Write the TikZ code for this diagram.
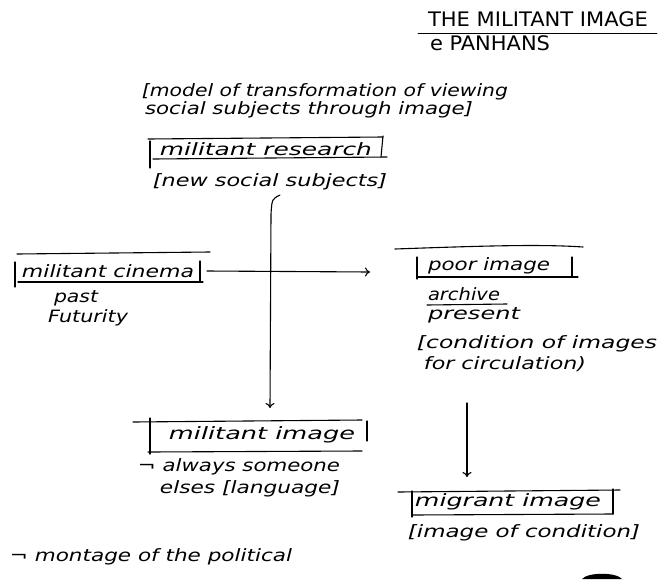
\documentclass[tikz,border=0pt]{standalone}
\usepackage{fontspec}
\usepackage{graphicx}
\newfontfamily\hand{DejaVu Sans}
\usetikzlibrary{arrows.meta}
\newcommand\fw[2]{\resizebox{#1}{\height}{#2}}
\begin{document}
\begin{tikzpicture}[x=1pt,y=-1pt,
  hw/.style={font=\hand\itshape\fontsize{17}{20}\selectfont, inner sep=0pt, anchor=center},
  ttl/.style={font=\hand\fontsize{20}{24}\selectfont, inner sep=0pt, anchor=center},
  ln/.style={line width=1.1pt, line cap=round, line join=round},
  arr/.style={ln, -{To[length=5pt,width=9pt]}}]
\useasboundingbox (0,0) rectangle (659,579);
\fill[white] (0,0) rectangle (659,579);
% title
\node[ttl] (t1) at (538,19) {\fw{220pt}{THE MILITANT IMAGE}};
\node[ttl] (t2) at (490,43) {\fw{120pt}{e PANHANS}};
\draw[ln, line width=0.9pt] (418,33) -- (657,33);
% intro
\node[hw] (q1) at (325,92) {\fw{366pt}{[model of transformation of viewing}};
\node[hw] (q2) at (309,110) {\fw{328pt}{social subjects through image]}};
% militant research
\node[hw] (res) at (266,149) {\fw{212pt}{militant research}};
\draw[ln] (148,139) -- (383,137);
\draw[ln] (150,141) -- (150,168);
\draw[ln] (153,159) -- (387,157);
\draw[ln] (383,136) -- (381,157);
\node[hw] (ns) at (270,182) {\fw{234pt}{[new social subjects]}};
% militant cinema
\node[hw] (cin) at (108,271) {\fw{172pt}{militant cinema}};
\draw[ln] (17,254) -- (210,252);
\draw[ln] (15,262) -- (15,287);
\draw[ln] (18,282) -- (203,282);
\draw[ln] (200,261) -- (200,281);
\node[hw] (past) at (76,298) {\fw{44pt}{past}};
\node[hw] (fut) at (88,318) {\fw{80pt}{Futurity}};
% poor image
\draw[ln] (395,249) .. controls (480,246) and (540,244) .. (583,247);
\node[hw] (poor) at (489,266) {\fw{122pt}{poor image}};
\draw[ln] (417,257) -- (417,279);
\draw[ln] (417,277) -- (578,277);
\draw[ln] (572,257) -- (572,277);
\node[hw] (arch) at (464,294) {\fw{72pt}{archive}};
\draw[ln] (427,305) -- (507,304);
\node[hw] (pres) at (474,315) {\fw{92pt}{present}};
\node[hw] (cond) at (537,344) {\fw{240pt}{[condition of images}};
\node[hw] (circ) at (505,364) {\fw{162pt}{for circulation)}};
% militant image
\draw[ln] (133,422) -- (362,420);
\node[hw] (mimg) at (262,435) {\fw{186pt}{militant image}};
\draw[ln] (150,418) -- (150,454);
\draw[ln] (148,452) -- (362,451);
\draw[ln] (367,421) -- (367,441);
\node[hw] (alw) at (239,467) {\fw{202pt}{¬ always someone}};
\node[hw] (els) at (250,489) {\fw{180pt}{elses [language]}};
% migrant image
\draw[ln] (398,492) -- (620,490);
\node[hw] (mig) at (508,502) {\fw{186pt}{migrant image}};
\draw[ln] (412,491) -- (412,517);
\draw[ln] (412,515) -- (613,514);
\draw[ln] (613,489) -- (613,514);
\node[hw] (ic) at (524,533) {\fw{232pt}{[image of condition]}};
% montage
\node[hw] (mont) at (151,557) {\fw{282pt}{¬ montage of the political}};
% connectors
\coordinate (vtop) at (280,195);
\coordinate (vbot) at (270,408);
\coordinate (hend) at (370,272);
\draw[arr] (vtop) .. controls (272,199) .. (271,214) -- (vbot);
\draw[arr] (cin.east -| 207,272) -- (hend);
\coordinate (rtop) at (467,403);
\coordinate (rbot) at (467,477);
\draw[arr] (rtop) -- (rbot);
% dark blot at bottom edge
\fill[black] (582,579) .. controls (588,572) and (616,572) .. (622,579) -- cycle;
\end{tikzpicture}
\end{document}
